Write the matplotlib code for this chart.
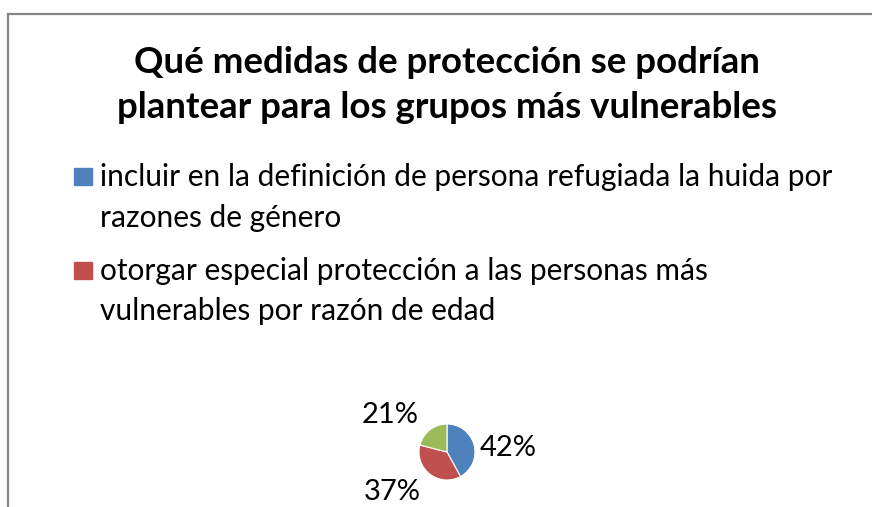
import matplotlib
matplotlib.use("Agg")
import matplotlib.pyplot as plt
from matplotlib.lines import Line2D
from matplotlib.patches import Rectangle

plt.rcParams['font.family'] = ['Lato', 'DejaVu Sans']

title = "Qué medidas de protección se podrían\nplantear para los grupos más vulnerables"
categories = [
    "incluir en la definición de persona refugiada la huida por\nrazones de género",
    "otorgar especial protección a las personas más\nvulnerables por razón de edad",
    "otras medidas",
]
values = [42, 37, 21]
pct_labels = ["42%", "37%", "21%"]
colors = ["#4F81BD", "#C0504D", "#9BBB59"]
legend_shown = 2

W, H = 872, 507
fig = plt.figure(figsize=(W / 100, H / 100), dpi=100)

# frame (clipped chart area)
fig.add_artist(Line2D([8 / W, 1.0], [1 - 14 / H, 1 - 14 / H], color="#868686", lw=1.6))
fig.add_artist(Line2D([8 / W, 8 / W], [0, 1 - 14 / H], color="#868686", lw=1.6))

# title
fig.text(447 / W, 1 - 85 / H, title, ha="center", va="center", fontsize=26.4,
         fontweight="bold", linespacing=1.44, color="black")

# legend (only first entries visible)
marker_y = [176.5, 270.5]
text_y = [197.5, 291]
for i in range(legend_shown):
    fig.add_artist(Rectangle((74 / W, 1 - (marker_y[i] + 8.5) / H), 18 / W, 17 / H,
                             transform=fig.transFigure, color=colors[i]))
    fig.text(100 / W, 1 - text_y[i] / H, categories[i], ha="left", va="center",
             fontsize=21.5, linespacing=1.56, color="black")

# pie
cx, cy, r = 447, 452, 28
ax = fig.add_axes([(cx - r) / W, (H - cy - r) / H, 2 * r / W, 2 * r / H])
wedges, texts = ax.pie(values, colors=colors, startangle=90, counterclock=False,
                       labels=pct_labels, labeldistance=2.2,
                       wedgeprops=dict(linewidth=0.8, edgecolor="white"),
                       textprops=dict(fontsize=21, color="black"))
label_pos = [(2.18, 0.14), (-1.96, -1.43), (-2.04, 1.32)]
for t, p in zip(texts, label_pos):
    t.set_position(p)
    t.set_ha("center")
    t.set_va("center")
ax.set_xlim(-1, 1)
ax.set_ylim(-1, 1)
ax.set_aspect("equal")
ax.axis("off")

fig.savefig("out.png", dpi=100)
